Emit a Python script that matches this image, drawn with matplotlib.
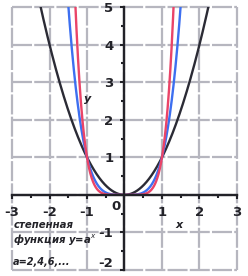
import numpy as np
import matplotlib
matplotlib.use("Agg")
import matplotlib.pyplot as plt
from matplotlib.ticker import MultipleLocator, FixedLocator

# data
exponents = [2, 4, 6]
curve_colors = ["#2b2b35", "#3d6ff0", "#ea4468"]
x_ticks = [-3, -2, -1, 1, 2, 3]
y_ticks = [-2, -1, 1, 2, 3, 4, 5]
title_lines = ["степенная", "функция y=a$^x$"]
param_text = "a=2,4,6,..."

W, H = 248, 276
fig = plt.figure(figsize=(W / 100, H / 100), dpi=100)
ax = fig.add_axes([12 / W, (H - 270) / H, (237 - 12) / W, (270 - 7) / H])
ax.set_xlim(-3, 3)
ax.set_ylim(-2, 5)

xs = np.linspace(-3, 3, 1201)
for a, c in zip(exponents, curve_colors):
    ax.plot(xs, xs ** a, color=c, lw=1.7, zorder=3)

# grid
for gx in range(-3, 4):
    ax.axvline(gx, color="#b6b6bf", lw=1.6, ls=(0, (9, 1)), zorder=1, clip_on=False)
for gy in range(-2, 6):
    ax.axhline(gy, color="#b6b6bf", lw=1.6, ls=(0, (9, 1)), zorder=1, clip_on=False)

for s in ["top", "right"]:
    ax.spines[s].set_visible(False)
ax.spines["left"].set_position("zero")
ax.spines["bottom"].set_position("zero")
for s in ["left", "bottom"]:
    ax.spines[s].set_linewidth(1.7)
    ax.spines[s].set_color("#222228")
    ax.spines[s].set_zorder(4)

ax.xaxis.set_major_locator(FixedLocator(x_ticks))
ax.yaxis.set_major_locator(FixedLocator(y_ticks))
ax.xaxis.set_minor_locator(MultipleLocator(0.5))
ax.yaxis.set_minor_locator(MultipleLocator(0.5))
ax.set_xticklabels([str(t) for t in x_ticks])
ax.set_yticklabels([str(t) for t in y_ticks])
ax.tick_params(which="both", direction="out", color="#222228", width=1.5)
ax.tick_params(which="major", length=3, labelsize=9.5, pad=5)
ax.tick_params(which="minor", length=2.5)
for lab in ax.get_xticklabels() + ax.get_yticklabels():
    lab.set_fontweight("bold")
    lab.set_color("#222228")
ax.get_yticklabels()[0].set_verticalalignment("bottom")

ax.text(-0.1, -0.14, "0", ha="right", va="top", fontsize=9.5, fontweight="bold", color="#222228")
ax.text(-0.97, 2.55, "y", ha="center", va="center", fontsize=8, fontstyle="italic", fontweight="bold", color="#222228")
ax.text(1.45, -0.8, "x", ha="center", va="center", fontsize=8, fontstyle="italic", fontweight="bold", color="#222228")

ax.text(-2.97, -0.8, title_lines[0], ha="left", va="center", fontsize=7.3,
        fontstyle="italic", fontweight="bold", color="#222228")
ax.text(-2.97, -1.2, title_lines[1], ha="left", va="center", fontsize=7.3,
        fontstyle="italic", fontweight="bold", color="#222228")
ax.text(-2.97, -1.8, param_text, ha="left", va="center", fontsize=7,
        fontstyle="italic", fontweight="bold", color="#222228")

fig.savefig("out.png", dpi=100)
